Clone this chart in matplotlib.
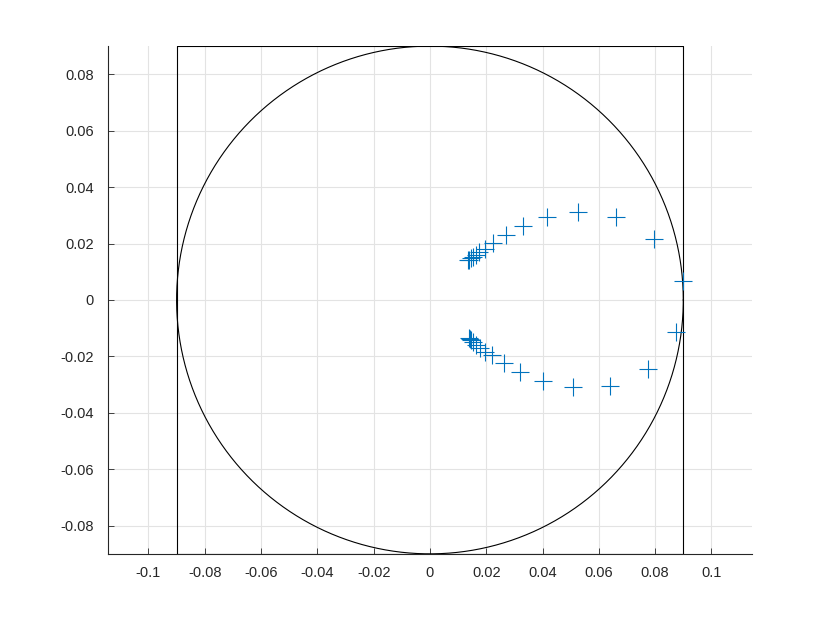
import numpy as np
import matplotlib
matplotlib.use("Agg")
import matplotlib.pyplot as plt

# pole-like points (upper and lower branches)
upper_x = [0.0136, 0.0140, 0.0146, 0.0152, 0.0162, 0.0176, 0.0195, 0.0224,
           0.0269, 0.0332, 0.0416, 0.0525, 0.0660, 0.0795, 0.0898]
upper_y = [0.0140, 0.0143, 0.0148, 0.0153, 0.0160, 0.0170, 0.0182, 0.0203,
           0.0232, 0.0263, 0.0294, 0.0311, 0.0295, 0.0216, 0.0068]
lower_x = [0.0138, 0.0142, 0.0147, 0.0153, 0.0163, 0.0178, 0.0196, 0.0220,
           0.0262, 0.0321, 0.0401, 0.0508, 0.0638, 0.0774, 0.0875]
lower_y = [-0.0135, -0.0138, -0.0143, -0.0150, -0.0160, -0.0172, -0.0183, -0.0194,
           -0.0223, -0.0254, -0.0286, -0.0310, -0.0306, -0.0245, -0.0112]

radius = 0.09
xticks = [-0.1, -0.08, -0.06, -0.04, -0.02, 0, 0.02, 0.04, 0.06, 0.08, 0.1]
yticks = [-0.08, -0.06, -0.04, -0.02, 0, 0.02, 0.04, 0.06, 0.08]

plt.rcParams['font.family'] = ['Liberation Sans', 'DejaVu Sans']

fig = plt.figure(figsize=(8.3, 6.23), dpi=100)
ax = fig.add_axes([0.13, 0.111, 0.776, 0.815])

axcol = '#262626'
# circle and bounding square
t = np.linspace(0, 2 * np.pi, 400)
ax.plot(radius * np.cos(t), radius * np.sin(t), color='black', lw=0.8, zorder=2)
ax.plot([-radius, radius, radius, -radius, -radius],
        [-radius, -radius, radius, radius, -radius], color='black', lw=0.8, zorder=2)

ax.plot(upper_x, upper_y, '+', color='#0072BD', ms=13, mew=0.8, zorder=3)
ax.plot(lower_x, lower_y, '+', color='#0072BD', ms=13, mew=0.8, zorder=3)

ax.set_xlim(-0.1144, 0.1144)
ax.set_ylim(-0.09, 0.09)
ax.set_xticks(xticks)
ax.set_yticks(yticks)
ax.set_xticklabels([f"{v:g}" for v in xticks])
ax.set_yticklabels([f"{v:g}" for v in yticks])

ax.grid(True, color='#e3e3e3', lw=0.8)
ax.set_axisbelow(True)
for s in ['top', 'right']:
    ax.spines[s].set_visible(False)
for s in ['left', 'bottom']:
    ax.spines[s].set_color(axcol)
    ax.spines[s].set_linewidth(0.8)
ax.tick_params(direction='in', length=4.5, width=0.6, color=axcol,
               labelcolor=axcol, labelsize=10.5)
ax.tick_params(axis='x', pad=9)
ax.tick_params(axis='y', pad=10)

fig.savefig('out.png', dpi=100)
